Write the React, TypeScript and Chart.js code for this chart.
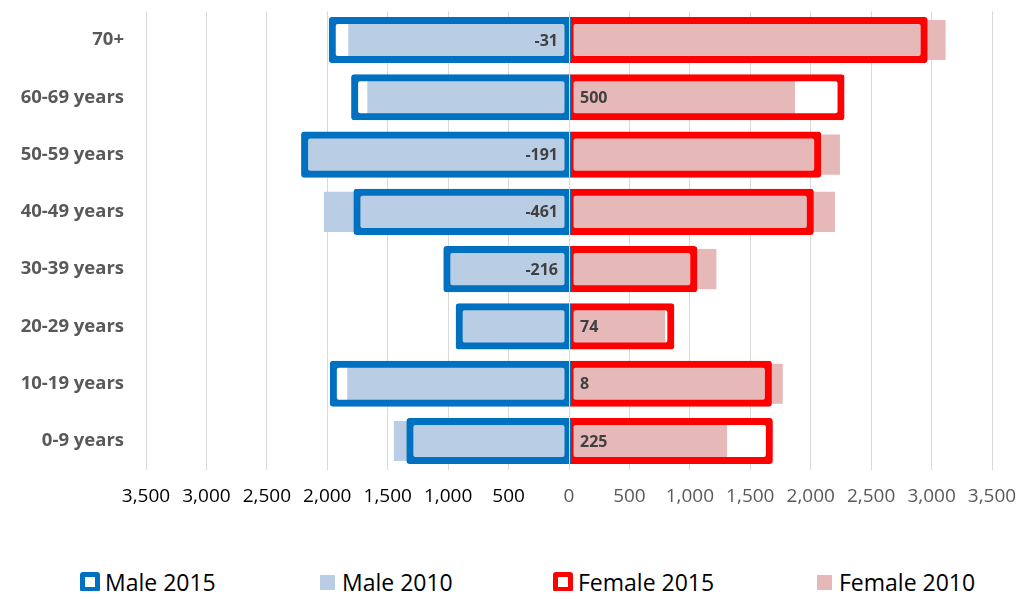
import React, { useEffect, useRef } from "react";
import { Chart, registerables } from "chart.js";

Chart.register(...registerables);

// ---- data ----
const categories = [
  "70+",
  "60-69 years",
  "50-59 years",
  "40-49 years",
  "30-39 years",
  "20-29 years",
  "10-19 years",
  "0-9 years",
];
const male2015 = [-1963, -1778, -2192, -1759, -1015, -913, -1954, -1321];
const male2010 = [-1826, -1669, -2195, -2028, -1035, -890, -1835, -1449];
const female2015 = [2943, 2255, 2062, 2001, 1037, 847, 1654, 1662];
const female2010 = [3116, 1870, 2242, 2201, 1220, 796, 1769, 1308];
const changeLabels = ["-31", "500", "-191", "-461", "-216", "74", "8", "225"];
const axisMin = -3500;
const axisMax = 3500;
const axisStep = 500;
const legendLabels = ["Male 2015", "Male 2010", "Female 2015", "Female 2010"];

// ---- styles ----
const FONT = "'Open Sans', sans-serif";
const BLUE = "#0070C0";
const LIGHT_BLUE = "#B9CDE5";
const RED = "#FF0000";
const LIGHT_RED = "#E6B9B8";
const GRID = "#D9D9D9";

function fmt(v: number): string {
  const s = String(Math.abs(Math.round(v)));
  return s.replace(/\B(?=(\d{3})+(?!\d))/g, ",");
}

const overlayPlugin = {
  id: "overlay",
  afterDatasetsDraw(chart: any) {
    const { ctx, chartArea, scales } = chart;
    const x0 = scales.x.getPixelForValue(0);
    ctx.save();
    ctx.strokeStyle = GRID;
    ctx.lineWidth = 1;
    ctx.beginPath();
    const px = Math.round(x0) + 0.5;
    ctx.moveTo(px, chartArea.top);
    ctx.lineTo(px, chartArea.bottom);
    ctx.stroke();
    ctx.font = `bold 16px ${FONT}`;
    ctx.fillStyle = "#404040";
    ctx.textBaseline = "middle";
    changeLabels.forEach((t, i) => {
      const y = scales.y.getPixelForValue(i);
      const neg = parseFloat(t) < 0;
      ctx.textAlign = neg ? "right" : "left";
      ctx.fillText(t, neg ? x0 - 11 : x0 + 11, y + 1);
    });
    ctx.restore();
  },
};

function zeroPadding(s: any) {
  s.paddingTop = 0;
  s.paddingBottom = 0;
  s.paddingLeft = 0;
  s.paddingRight = 0;
}

export default function App() {
  const ref = useRef<HTMLCanvasElement | null>(null);

  useEffect(() => {
    if (!ref.current) return;
    Chart.defaults.font.family = FONT;
    const common = {
      grouped: false,
      categoryPercentage: 1,
      barPercentage: 0.7,
    };
    const outline = (label: string, data: number[], color: string) => ({
      ...common,
      label,
      data,
      backgroundColor: "rgba(0,0,0,0)",
      borderColor: color,
      borderWidth: 1,
      inflateAmount: 3,
      borderSkipped: false,
      borderRadius: 3,
    });
    const filled = (label: string, data: number[], color: string) => ({
      ...common,
      label,
      data,
      backgroundColor: color,
      borderWidth: 0,
      inflateAmount: 0,
    });
    const chart = new Chart(ref.current, {
      type: "bar",
      data: {
        labels: categories,
        datasets: [
          outline(legendLabels[0], male2015, BLUE),
          outline(legendLabels[2], female2015, RED),
          filled(legendLabels[1], male2010, LIGHT_BLUE),
          filled(legendLabels[3], female2010, LIGHT_RED),
          filled("", male2015, "#FFFFFF"),
          filled("", female2015, "#FFFFFF"),
        ] as any,
      },
      options: {
        indexAxis: "y",
        animation: false,
        responsive: false,
        events: [],
        layout: { padding: { top: 3.4, right: 28, left: 0, bottom: 0 } },
        plugins: {
          legend: { display: false },
          tooltip: { enabled: false },
        },
        scales: {
          x: {
            min: axisMin,
            max: axisMax,
            ticks: {
              stepSize: axisStep,
              callback: (v: any) => fmt(Number(v)),
              color: (c: any) => (c.tick && c.tick.value < 0 ? "#000000" : "#595959"),
              font: { size: 19, family: FONT },
              padding: 16,
              maxRotation: 0,
              autoSkip: false,
            },
            grid: { color: GRID, drawTicks: false },
            border: { display: false },
            afterFit: (s: any) => {
              s.height = 58.4;
              zeroPadding(s);
            },
          },
          y: {
            ticks: {
              color: "#595959",
              font: { size: 18.5, weight: "bold", family: FONT },
              padding: 22,
              autoSkip: false,
            },
            grid: { display: false, drawTicks: false },
            border: { display: false },
            afterFit: (s: any) => {
              s.width = 138;
              zeroPadding(s);
            },
          },
        },
      } as any,
      plugins: [overlayPlugin],
    });
    return () => chart.destroy();
  }, []);

  const itemWidths = [240, 233, 264, 170];
  const legendColors = [BLUE, LIGHT_BLUE, RED, LIGHT_RED];
  const outlined = [true, false, true, false];

  return (
    <div style={{ position: "relative", width: 1012, height: 583, fontFamily: FONT }}>
      <canvas ref={ref} width={1012} height={520} style={{ display: "block" }} />
      <div
        style={{
          position: "absolute",
          left: 72,
          top: 560,
          height: 28,
          display: "flex",
          alignItems: "center",
        }}
      >
        {legendLabels.map((l, i) => (
          <div key={l} style={{ width: itemWidths[i], display: "flex", alignItems: "center" }}>
            {outlined[i] ? (
              <span
                style={{
                  width: 20,
                  height: 20,
                  boxSizing: "border-box",
                  border: `5px solid ${legendColors[i]}`,
                  borderRadius: 3,
                  background: "#FFFFFF",
                  marginRight: 5,
                  flex: "none",
                }}
              />
            ) : (
              <span
                style={{
                  width: 15,
                  height: 15,
                  background: legendColors[i],
                  marginRight: 7,
                  flex: "none",
                }}
              />
            )}
            <span style={{ fontSize: 23, lineHeight: "28px", color: "#000000", whiteSpace: "nowrap" }}>{l}</span>
          </div>
        ))}
      </div>
    </div>
  );
}
